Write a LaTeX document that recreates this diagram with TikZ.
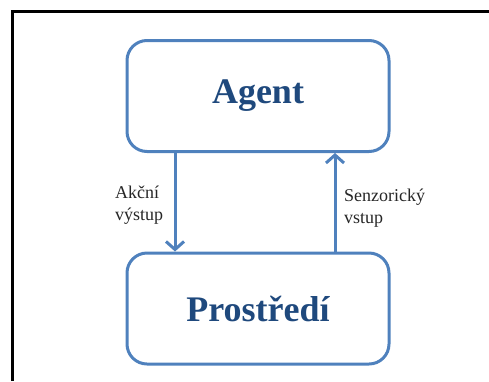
\documentclass[tikz,border=0pt]{standalone}
\usepackage{fontspec}
\setmainfont{Liberation Serif}
\usetikzlibrary{arrows.meta}
\definecolor{boxblue}{HTML}{4F81BD}
\definecolor{titleblue}{HTML}{1F497D}
\begin{document}
\begin{tikzpicture}[x=1pt,y=1pt,
  block/.style={draw=boxblue, line width=3pt, rounded corners=20pt,
    minimum width=262pt, minimum height=111pt, inner sep=0pt,
    text=titleblue, font=\fontsize{36}{40}\selectfont\bfseries},
  flow/.style={draw=boxblue, line width=3pt,
    -{Straight Barb[length=8pt,width=18pt,line width=3pt]}},
  note/.style={align=left, inner sep=0pt, text=black!85,
    font=\fontsize{18}{22}\selectfont}]
  \useasboundingbox (0,0) rectangle (489,-381);
  % open black frame (top and left edges)
  \draw[line width=3pt] (12.5,-381) -- (12.5,-11.5) -- (489,-11.5);
  % the two blocks
  \node[block] (agent) at (258,-96) {Agent};
  \node[block] (env) at (258,-308.5) {Prostředí};
  % arrow positions
  \coordinate (down) at (175,0);
  \coordinate (up) at (335,0);
  \draw[flow] (agent.south -| down) -- (env.north -| down);
  \draw[flow] (env.north -| up) -- (agent.south -| up);
  % arrow labels
  \node[note, anchor=west] (act) at (115,-205) {Akční\\výstup};
  \node[note, anchor=west] (sens) at (344,-208) {Senzorický\\vstup};
\end{tikzpicture}
\end{document}
